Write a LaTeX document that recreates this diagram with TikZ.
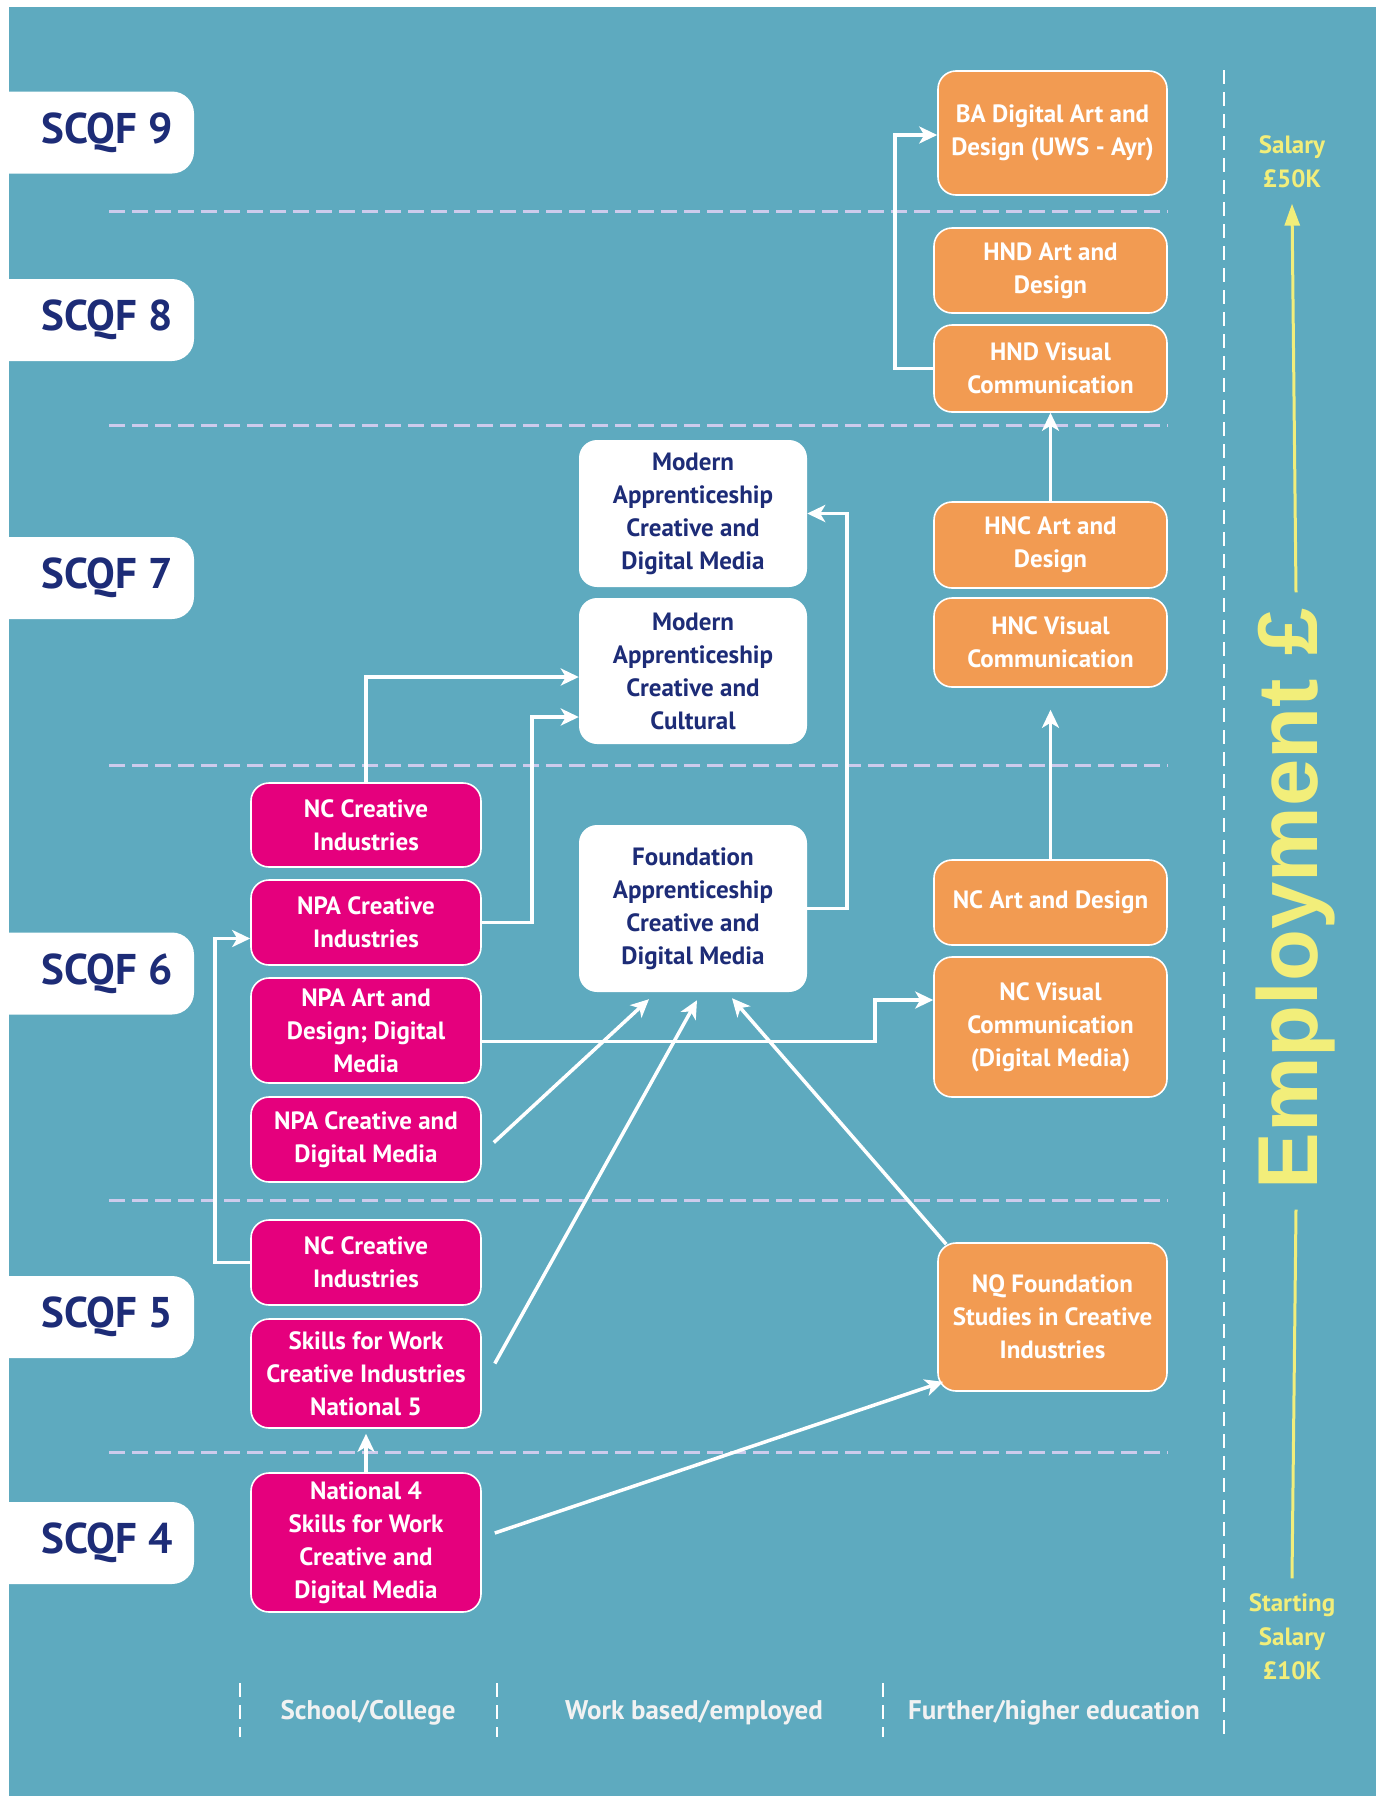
\documentclass[tikz,border=0pt]{standalone}
\usepackage{fontspec}
\setmainfont{PT Sans}
\newfontfamily\empfont{Liberation Sans}
\usetikzlibrary{arrows.meta}
\definecolor{bgteal}{HTML}{5EAABF}
\definecolor{pinkc}{HTML}{E5007D}
\definecolor{orangec}{HTML}{F29B52}
\definecolor{navy}{HTML}{1D2C77}
\definecolor{yel}{HTML}{F2EE7A}
\definecolor{lav}{HTML}{CDCBEC}
\definecolor{whitish}{HTML}{F2F2F2}
\tikzset{
  box/.style={rounded corners=18pt, align=center, inner sep=2pt, font=\bfseries\fontsize{25}{33}\selectfont},
  pinkbox/.style={box, fill=pinkc, draw=white, line width=1.6pt, text=white, minimum width=230pt},
  orangebox/.style={box, fill=orangec, draw=white, line width=1.6pt, text=white, minimum width=233pt},
  whitebox/.style={box, fill=white, text=navy, minimum width=228pt},
  conn/.style={draw=white, line width=3.5pt, -{Stealth[length=18pt,width=17pt,inset=5pt]}},
  level/.style={draw=lav, line width=3pt, dash pattern=on 16pt off 7pt},
  sepline/.style={draw=white, line width=2.5pt, dash pattern=on 14pt off 8pt},
  scqftext/.style={text=navy, font=\bfseries\fontsize{43}{43}\selectfont},
  colhead/.style={text=whitish, font=\bfseries\fontsize{27}{27}\selectfont},
  saltext/.style={text=yel, align=center, font=\bfseries\fontsize{25}{34}\selectfont},
  yline/.style={draw=yel, line width=3pt},
}
\begin{document}
\begin{tikzpicture}[x=1pt,y=-1pt]
\useasboundingbox (0,0) rectangle (1380,1796);
\fill[white] (0,0) rectangle (1380,1796);
\fill[bgteal] (9,7) rectangle (1376,1796);

% level dashed lines
\foreach \yy in {211,425,765,1200,1452} {
  \draw[level] (109,\yy) -- (1168,\yy);
}
% column separators
\draw[sepline] (1224,70) -- (1224,1737);
\draw[sepline] (240,1683) -- (240,1737);
\draw[sepline] (497,1683) -- (497,1737);
\draw[sepline] (883,1683) -- (883,1737);

% SCQF labels
\foreach \yy/\lab in {132.5/9, 320/8, 578/7, 973.5/6, 1317/5, 1543/4} {
  \fill[white, rounded corners=22pt] (-30,\yy-41) rectangle (194,\yy+41);
}
\node[scqftext] (s9) at (107,132.5) {SCQF 9};
\node[scqftext] (s8) at (107,320) {SCQF 8};
\node[scqftext] (s7) at (107,578) {SCQF 7};
\node[scqftext] (s6) at (107,973.5) {SCQF 6};
\node[scqftext] (s5) at (107,1317) {SCQF 5};
\node[scqftext] (s4) at (107,1543) {SCQF 4};

% boxes - pink
\node[pinkbox, minimum height=84pt] (nc6) at (366,825) {NC Creative\\Industries};
\node[pinkbox, minimum height=85pt] (npaci) at (366,922.5) {NPA Creative\\Industries};
\node[pinkbox, minimum height=105pt] (npaad) at (366,1030.5) {NPA Art and\\Design; Digital\\Media};
\node[pinkbox, minimum height=85pt] (npacdm) at (366,1139.5) {NPA Creative and\\Digital Media};
\node[pinkbox, minimum height=85pt] (nc5) at (366,1262.5) {NC Creative\\Industries};
\node[pinkbox, minimum height=109pt] (sfw5) at (366,1373.5) {Skills for Work\\Creative Industries\\National 5};
\node[pinkbox, minimum height=139pt] (nat4) at (366,1542.5) {National 4\\Skills for Work\\Creative and\\Digital Media};

% boxes - white
\node[whitebox, minimum height=147pt] (macdm) at (693,513.5) {Modern\\Apprenticeship\\Creative and\\Digital Media};
\node[whitebox, minimum height=146pt] (macc) at (693,671) {Modern\\Apprenticeship\\Creative and\\Cultural};
\node[whitebox, minimum height=167pt] (fa) at (693,908.5) {Foundation\\Apprenticeship\\Creative and\\Digital Media};

% boxes - orange
\node[orangebox, minimum height=124pt, minimum width=229pt] (ba) at (1052.5,133) {BA Digital Art and\\Design (UWS - Ayr)};
\node[orangebox, minimum height=85pt] (hndad) at (1050.5,270.5) {HND Art and\\Design};
\node[orangebox, minimum height=87pt] (hndvc) at (1050.5,368.5) {HND Visual\\Communication};
\node[orangebox, minimum height=86pt] (hncad) at (1050.5,545) {HNC Art and\\Design};
\node[orangebox, minimum height=89pt] (hncvc) at (1050.5,642.5) {HNC Visual\\Communication};
\node[orangebox, minimum height=85pt] (ncad) at (1050.5,902.5) {NC Art and Design};
\node[orangebox, minimum height=140pt] (ncvc) at (1050.5,1027) {NC Visual\\Communication\\(Digital Media)};
\node[orangebox, minimum height=148pt, minimum width=229pt] (nq) at (1052.5,1317) {NQ Foundation\\Studies in Creative\\Industries};

% connectors
\draw[conn] (hndvc.west) -- ++(-38,0) |- ([yshift=-2pt]ba.west);
\draw[conn] (hncad.north) -- (hndvc.south);
\draw[conn, shorten >=22pt] (ncad.north) -- (hncvc.south);
\draw[conn] (nc6.north) |- ([yshift=-6pt]macc.west);
\draw[conn] (npaci.east) -- ++(50,0) |- ([yshift=-46pt]macc.west);
\draw[conn] (fa.east) -- ++(40,0) |- (macdm.east);
\draw[conn] (nc5.west) -- ++(-35,0) |- ([yshift=-16pt]npaci.west);
\draw[conn] ([yshift=-11pt]npaad.east) -- ++(393,0) |- ([yshift=27pt]ncvc.west);
\draw[conn] ([xshift=12pt,yshift=-3pt]npacdm.east) -- ([xshift=-44pt,yshift=-7pt]fa.south);
\draw[conn] ([xshift=13pt,yshift=10pt]sfw5.east) -- ([xshift=4pt,yshift=-8pt]fa.south);
\draw[conn] ([xshift=9pt,yshift=-2pt]nq.north west) -- ([xshift=39pt,yshift=-6pt]fa.south);
\draw[conn, shorten >=5pt] (nat4.north) -- (sfw5.south);
\draw[conn] ([xshift=13pt,yshift=9.5pt]nat4.east) -- ([xshift=6pt,yshift=10pt]nq.south west);

% employment axis
\node[saltext] (sal50) at (1292,162) {Salary\\£50K};
\node[saltext] (sal10) at (1292,1637) {Starting\\Salary\\£10K};
\node[rotate=90, inner sep=0pt, text=yel, font=\empfont\bfseries\fontsize{85}{85}\selectfont] (emp) at (1296,899) {Employment £};
\draw[yline, -{Triangle[length=22pt,width=15pt]}] ([yshift=16pt]emp.east) -- ([yshift=-12pt]sal50.south);
\draw[yline] ([yshift=-20pt]emp.west) -- ([yshift=12pt]sal10.north);

% column headings
\node[colhead] (hschool) at (368,1713) {School/College};
\node[colhead] (hwork) at (694,1713) {Work based/employed};
\node[colhead] (hfurther) at (1054,1713) {Further/higher education};
\end{tikzpicture}
\end{document}
